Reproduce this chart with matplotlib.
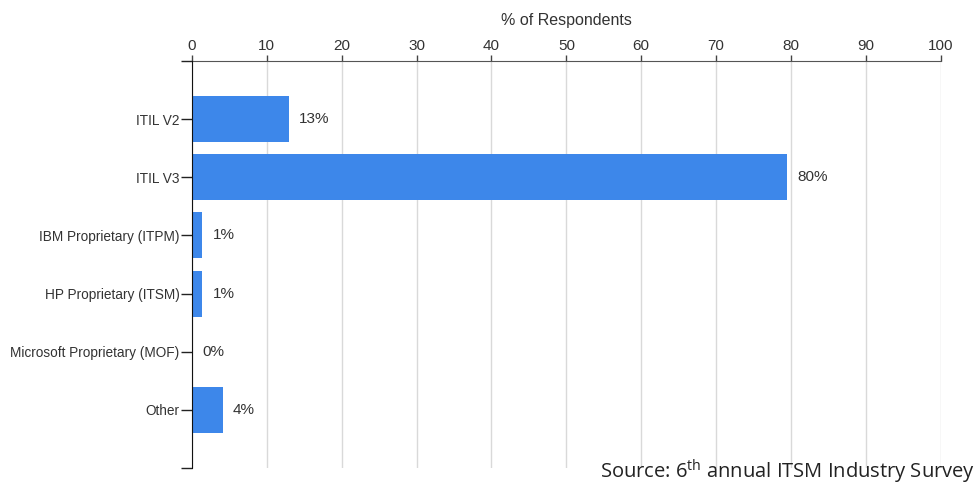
import matplotlib
matplotlib.use("Agg")
import matplotlib.pyplot as plt

categories = ["ITIL V2", "ITIL V3", "IBM Proprietary (ITPM)", "HP Proprietary (ITSM)",
              "Microsoft Proprietary (MOF)", "Other"]
values = [12.9, 79.5, 1.4, 1.4, 0.0, 4.1]
value_labels = ["13%", "80%", "1%", "1%", "0%", "4%"]
x_ticks = [0, 10, 20, 30, 40, 50, 60, 70, 80, 90, 100]

plt.rcParams['font.family'] = ['Liberation Sans', 'DejaVu Sans']
plt.rcParams['mathtext.fontset'] = 'custom'
plt.rcParams['mathtext.rm'] = 'Open Sans'

fig = plt.figure(figsize=(9.78, 4.84), dpi=100)
ax = fig.add_axes([192 / 978, 1 - 468 / 484, (940.7 - 192) / 978, (468 - 61) / 484])

ypos = list(range(len(categories)))
ax.barh(ypos, values, height=0.79, color='#3d87ea', zorder=3)
ax.set_xlim(0, 100)
ax.set_ylim(6, -1)

for y, v, lab in zip(ypos, values, value_labels):
    ax.annotate(lab, (v, y), xytext=(7.5, 0), textcoords='offset points',
                ha='left', va='center', fontsize=11, color='#333333')

ax.xaxis.tick_top()
ax.xaxis.set_label_position('top')
ax.set_xticks(x_ticks)
ax.set_xticklabels([str(t) for t in x_ticks], fontsize=11, color='#333333')
ax.tick_params(axis='x', direction='out', length=4, width=1, color='#444444', pad=2)
ax.set_xlabel('% of Respondents', fontsize=11.5, color='#333333', labelpad=10)

ax.set_yticks([-1] + ypos + [6])
ax.set_yticklabels([''] + categories + [''], fontsize=9.8, color='#333333')
ax.tick_params(axis='y', direction='out', length=8, width=1, color='#222222', pad=1)

ax.grid(axis='x', color='#d9d9d9', linewidth=1, zorder=0)
for s in ['right', 'bottom']:
    ax.spines[s].set_visible(False)
ax.spines['left'].set_color('#111111')
ax.spines['top'].set_color('#555555')
ax.spines['left'].set_zorder(4)

fig.text(975 / 978, 1 - 478 / 484, r"Source: 6$^{\rm th}$ annual ITSM Industry Survey",
         ha='right', va='baseline', fontsize=14.5, color='#222222', family='Open Sans')

fig.savefig('out.png', dpi=100)
